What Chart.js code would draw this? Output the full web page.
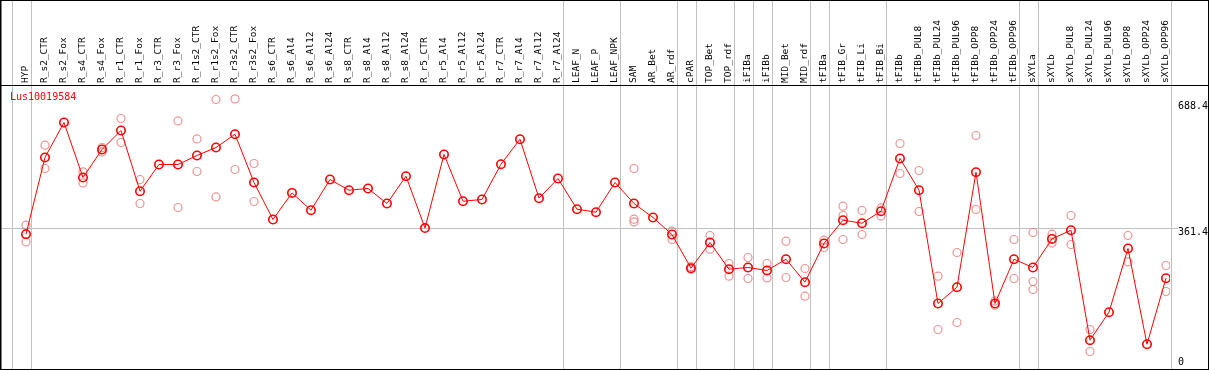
<!DOCTYPE html>
<html>
<head>
<meta charset="utf-8">
<script src="https://cdn.jsdelivr.net/npm/chart.js@4/dist/chart.umd.min.js"></script>
<style>
html, body { margin: 0; padding: 0; background: #fff; }
</style>
</head>
<body>
<canvas id="chart" width="1209" height="370"></canvas>
<script>
// samples
categories = ["HYP", "R_s2_CTR", "R_s2_Fox", "R_s4_CTR", "R_s4_Fox", "R_r1_CTR", "R_r1_Fox", "R_r3_CTR", "R_r3_Fox",
    "R_r1s2_CTR", "R_r1s2_Fox", "R_r3s2_CTR", "R_r3s2_Fox", "R_s6_CTR", "R_s6_Al4", "R_s6_Al12", "R_s6_Al24",
    "R_s8_CTR", "R_s8_Al4", "R_s8_Al12", "R_s8_Al24", "R_r5_CTR", "R_r5_Al4", "R_r5_Al12", "R_r5_Al24",
    "R_r7_CTR", "R_r7_Al4", "R_r7_Al12", "R_r7_Al24", "LEAF_N", "LEAF_P", "LEAF_NPK", "SAM", "AR_Bet", "AR_rdf",
    "cPAR", "TOP_Bet", "TOP_rdf", "iFIBa", "iFIBb", "MID_Bet", "MID_rdf", "tFIBa", "tFIB_Gr", "tFIB_Li", "tFIB_Bi",
    "tFIBb", "tFIBb_PUL8", "tFIBb_PUL24", "tFIBb_PUL96", "tFIBb_OPP8", "tFIBb_OPP24", "tFIBb_OPP96",
    "sXYLa", "sXYLb", "sXYLb_PUL8", "sXYLb_PUL24", "sXYLb_PUL96", "sXYLb_OPP8", "sXYLb_OPP24", "sXYLb_OPP96"];

// mean expression
mean_values = [345.5, 545.0, 636.1, 493.0, 565.8, 615.3, 457.3, 526.8, 526.8,
    550.2, 571.0, 605.6, 480.0, 383.7, 452.9, 407.9, 487.8,
    460.0, 464.4, 425.3, 496.4, 361.4, 552.8, 431.3, 435.8,
    527.6, 592.6, 439.1, 490.4, 410.5, 402.7, 480.0, 425.3, 388.9, 344.7,
    257.0, 323.9, 254.4, 258.9, 251.0, 280.4, 220.6, 321.3, 381.9, 374.1, 405.3,
    542.4, 460.0, 165.2, 207.6, 506.8, 165.2, 280.4,
    258.9, 333.3, 355.9, 69.7, 142.6, 308.3, 59.3, 231.0];

// replicates
rep1_values = [368.9, 577.0, null, 507.6, 571.0, 646.5, 487.8, null, 640.2,
    593.4, 695.9, 697.5, 529.4, null, null, null, null,
    null, null, null, null, null, null, null, null,
    null, null, null, null, null, null, null, 516.4, null, 353.3,
    260.9, 342.1, 269.3, 284.9, 269.3, 327.3, 256.3, 329.9, 418.3, 407.1, 413.9,
    581.4, 511.2, 236.2, 297.9, 602.2, 172.0, 331.7,
    349.9, 345.5, 394.1, 97.6, null, 342.1, null, 264.1];
rep2_values = [325.4, 516.4, null, 478.9, 559.6, 584.0, 425.3, null, 414.9,
    508.6, 442.5, 513.8, 430.5, null, null, null, null,
    null, null, null, null, null, null, null, null,
    null, null, null, null, null, null, null, 384.5, null, 331.7,
    254.4, 306.5, 236.2, 230.2, 231.8, 232.8, 184.2, 310.9, 394.1, 344.7, 393.1,
    503.4, 404.5, 97.6, 115.8, 409.7, 160.8, 230.2,
    222.4, 322.8, 318.7, 40.3, null, 273.4, null, 196.4];
rep3_values = [null, null, null, null, null, null, null, null, null,
    null, null, null, null, null, null, null, null,
    null, null, null, null, null, null, null, null,
    null, null, null, null, null, null, null, 377.5, null, null,
    null, null, null, null, null, null, null, null, 331.7, null, null,
    null, null, null, null, null, null, null,
    201.6, null, null, null, null, null, null, null];

y_ticks = [0, 361.4, 688.4];
gene_name = "Lus10019584";
// first category of each group, last entry closes the final group
group_starts = [0, 1, 29, 32, 35, 36, 38, 39, 40, 42, 43, 46, 53, 54, 61];

function as_points(values) {
    return values.map((v, i) => ({x: i, y: v}));
}

mono = "'DejaVu Sans Mono', 'Liberation Mono', monospace";

frame_plugin = {
    id: "frame",
    beforeDatasetsDraw(chart) {
        let ctx = chart.ctx;
        let x_scale = chart.scales.x;
        ctx.save();
        ctx.strokeStyle = "#c0c0c0";
        ctx.lineWidth = 1;
        group_starts.forEach(k => {
            let px = Math.round(x_scale.getPixelForValue(k - 0.753)) + 0.5;
            ctx.beginPath();
            ctx.moveTo(px, 0);
            ctx.lineTo(px, chart.height);
            ctx.stroke();
        });
        ctx.restore();
    },
    afterDraw(chart) {
        let ctx = chart.ctx;
        let area = chart.chartArea;
        ctx.save();
        ctx.strokeStyle = "#000";
        ctx.lineWidth = 1;
        ctx.beginPath();
        ctx.moveTo(0, area.top + 0.5);
        ctx.lineTo(chart.width, area.top + 0.5);
        ctx.stroke();
        ctx.strokeRect(1, 0.5, chart.width - 1.5, chart.height - 1);
        ctx.beginPath();
        ctx.moveTo(0.5, 0);
        ctx.lineTo(0.5, chart.height);
        ctx.stroke();
        ctx.fillStyle = "#ff0000";
        ctx.font = "10px " + mono;
        ctx.textBaseline = "middle";
        ctx.textAlign = "left";
        ctx.fillText(gene_name, 10, area.top + 12);
        ctx.restore();
    }
};

rep_style = {
    type: "line",
    showLine: false,
    borderColor: "rgba(232, 110, 110, 0.75)",
    backgroundColor: "rgba(0, 0, 0, 0)",
    pointRadius: 4,
    pointBorderWidth: 1.2,
    order: 2
};

chart = new Chart(document.getElementById("chart").getContext("2d"), {
    type: "line",
    data: {
        datasets: [
            {
                label: gene_name,
                data: as_points(mean_values),
                borderColor: "#ff0000",
                borderWidth: 1,
                backgroundColor: "rgba(0, 0, 0, 0)",
                pointBorderColor: "#ff0000",
                pointRadius: 4.2,
                pointBorderWidth: 1.6,
                order: 1
            },
            Object.assign({label: "rep1", data: as_points(rep1_values)}, rep_style),
            Object.assign({label: "rep2", data: as_points(rep2_values)}, rep_style),
            Object.assign({label: "rep3", data: as_points(rep3_values)}, rep_style)
        ]
    },
    options: {
        responsive: false,
        animation: false,
        layout: {autoPadding: false, padding: {left: 2, top: 0, right: 0, bottom: 3}},
        plugins: {legend: {display: false}, tooltip: {enabled: false}},
        scales: {
            x: {
                type: "linear",
                position: "top",
                min: -1.263,
                max: 60.211,
                afterBuildTicks: scale => { scale.ticks = categories.map((c, i) => ({value: i})); },
                afterFit: scale => {
                    scale.height = 85;
                    scale.paddingLeft = 0;
                    scale.paddingRight = 0;
                },
                grid: {display: false, drawTicks: false},
                border: {display: false},
                ticks: {
                    autoSkip: false,
                    minRotation: 90,
                    maxRotation: 90,
                    padding: 2,
                    labelOffset: 11,
                    color: "#000",
                    font: {family: mono, size: 9.5},
                    callback: value => categories[value]
                }
            },
            y: {
                type: "linear",
                position: "right",
                min: 0,
                max: 733.6,
                afterBuildTicks: scale => { scale.ticks = y_ticks.map(v => ({value: v})); },
                afterFit: scale => {
                    scale.width = 39;
                    scale.paddingTop = 0;
                    scale.paddingBottom = 0;
                },
                grid: {
                    color: c => (c.tick && c.tick.value === 361.4) ? "#c0c0c0" : "rgba(0, 0, 0, 0)",
                    drawTicks: true,
                    tickLength: 8
                },
                border: {display: false},
                ticks: {
                    padding: 0,
                    color: "#000",
                    labelOffset: 4,
                    // the zero label is lifted so it stays inside the frame
                    font: c => ({family: mono, size: 10, lineHeight: (c.tick && c.tick.value === 0) ? 1.7 : 1.2}),
                    callback: value => value === 0 ? ["0", ""] : String(value)
                }
            }
        }
    },
    plugins: [frame_plugin]
});
</script>
</body>
</html>
